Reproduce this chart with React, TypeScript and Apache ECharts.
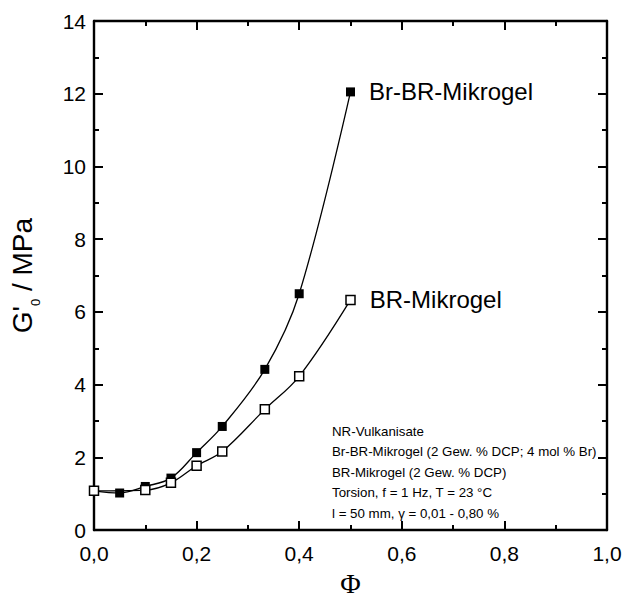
import React, { useEffect, useRef } from "react";
import * as echarts from "echarts";

const phiBrBR = [0, 0.05, 0.1, 0.15, 0.2, 0.25, 0.333, 0.4, 0.5];
const gBrBR = [1.08, 1.02, 1.2, 1.43, 2.13, 2.85, 4.42, 6.5, 12.05];
const phiBR = [0, 0.1, 0.15, 0.2, 0.25, 0.333, 0.4, 0.5];
const gBR = [1.08, 1.1, 1.3, 1.77, 2.16, 3.32, 4.23, 6.33];
const seriesNames = ["Br-BR-Mikrogel", "BR-Mikrogel"];
const noteLines = [
  "NR-Vulkanisate",
  "Br-BR-Mikrogel (2 Gew. % DCP; 4 mol % Br)",
  "BR-Mikrogel (2 Gew. % DCP)",
  "Torsion, f = 1 Hz, T = 23 °C",
  "l = 50 mm, γ = 0,01 - 0,80 %",
];

const FONT = '"Liberation Sans", Arial, sans-serif';

function buildData(xs: number[], ys: number[], name: string) {
  return xs.map((x, i) => {
    if (i === xs.length - 1) {
      return {
        value: [x, ys[i]],
        label: {
          show: true,
          position: "right",
          distance: 14,
          formatter: name,
          fontSize: 24,
          fontFamily: FONT,
          color: "#000",
        },
      };
    }
    return { value: [x, ys[i]] };
  });
}

const axisCommon = {
  axisLine: { show: true, onZero: false, lineStyle: { color: "#000", width: 2.4 } },
  axisTick: { show: true, inside: true, length: 9, lineStyle: { color: "#000", width: 2 } },
  minorTick: { show: true, splitNumber: 2, length: 5, lineStyle: { color: "#000", width: 2 } },
  splitLine: { show: false },
  minorSplitLine: { show: false },
};

export default function App() {
  const ref = useRef<HTMLDivElement>(null);
  useEffect(() => {
    if (!ref.current) return;
    const chart = echarts.init(ref.current, null, { renderer: "svg" });
    chart.setOption({
      animation: false,
      backgroundColor: "#fff",
      grid: { left: 90, right: 27, top: 21, bottom: 65, containLabel: false },
      xAxis: [
        {
          type: "value",
          min: 0,
          max: 1,
          interval: 0.2,
          position: "bottom",
          ...axisCommon,
          axisLabel: {
            fontSize: 21,
            fontFamily: FONT,
            color: "#000",
            margin: 13,
            formatter: (v: number) => v.toFixed(1).replace(".", ","),
          },
          name: "Φ",
          nameLocation: "middle",
          nameGap: 33,
          nameTextStyle: {
            fontFamily: '"Liberation Serif", "DejaVu Serif", serif',
            fontSize: 28,
            color: "#000",
            verticalAlign: "top",
          },
        },
        {
          type: "value",
          min: 0,
          max: 1,
          interval: 0.2,
          position: "top",
          ...axisCommon,
          axisLabel: { show: false },
        },
      ],
      yAxis: [
        {
          type: "value",
          min: 0,
          max: 14,
          interval: 2,
          position: "left",
          ...axisCommon,
          axisLabel: {
            fontSize: 21,
            fontFamily: FONT,
            color: "#000",
            margin: 8,
          },
          name: "{a|G'}{s|0}{a| / MPa}",
          nameLocation: "middle",
          nameGap: 52,
          nameTextStyle: {
            color: "#000",
            rich: {
              a: { fontSize: 28, fontFamily: FONT, color: "#000", lineHeight: 40, verticalAlign: "middle" },
              s: { fontSize: 13, fontFamily: FONT, color: "#000", lineHeight: 40, verticalAlign: "bottom" },
            },
          },
        },
        {
          type: "value",
          min: 0,
          max: 14,
          interval: 2,
          position: "right",
          ...axisCommon,
          axisLabel: { show: false },
        },
      ],
      series: [
        {
          name: seriesNames[0],
          type: "line",
          xAxisIndex: 0,
          yAxisIndex: 0,
          smooth: 0.35,
          data: buildData(phiBrBR, gBrBR, seriesNames[0]),
          lineStyle: { color: "#000", width: 1.3 },
          symbol: "rect",
          symbolSize: 9,
          itemStyle: { color: "#000", borderColor: "#000", borderWidth: 0 },
          z: 2,
        },
        {
          name: seriesNames[1],
          type: "line",
          xAxisIndex: 0,
          yAxisIndex: 0,
          smooth: 0.35,
          data: buildData(phiBR, gBR, seriesNames[1]),
          lineStyle: { color: "#000", width: 1.3 },
          symbol: "rect",
          symbolSize: 9,
          itemStyle: { color: "#fff", borderColor: "#000", borderWidth: 1.5 },
          z: 3,
        },
      ],
      graphic: [
        {
          type: "text",
          left: 332,
          top: 421,
          style: {
            text: noteLines.join("\n"),
            font: `13.3px ${FONT}`,
            lineHeight: 20.5,
            fill: "#000",
          },
        },
      ],
    });
    return () => chart.dispose();
  }, []);
  return (
    <div
      ref={ref}
      style={{ position: "fixed", left: 0, top: 0, width: 634, height: 602, background: "#fff" }}
    />
  );
}
